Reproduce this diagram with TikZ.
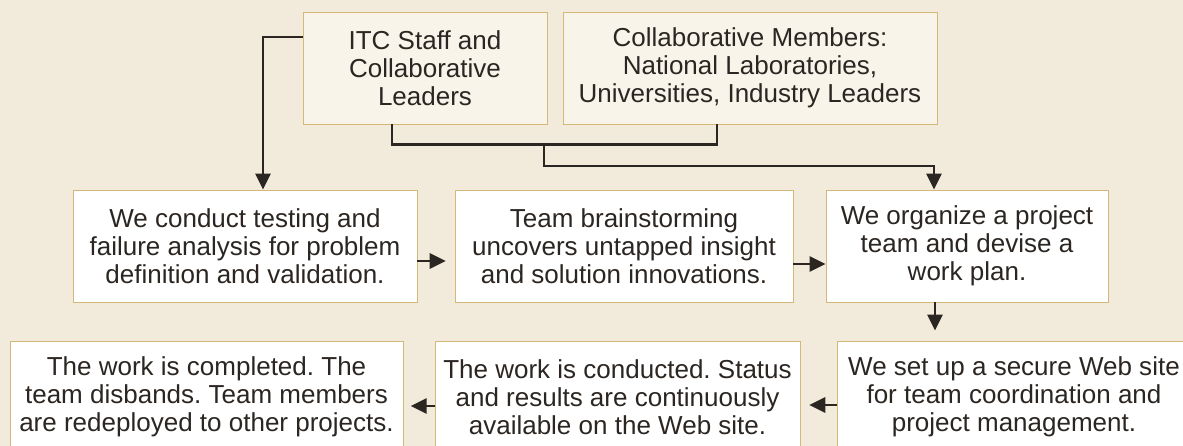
\documentclass[tikz,border=0pt]{standalone}
\usepackage{fontspec}
\setmainfont{Liberation Sans}
\usetikzlibrary{arrows.meta}
\definecolor{bg}{HTML}{F2EBDC}
\definecolor{topfill}{HTML}{F8F4EA}
\definecolor{boxline}{HTML}{D4B878}
\definecolor{ink}{HTML}{2B2622}
\frenchspacing

\begin{document}
\begin{tikzpicture}[font=\fontsize{18.5}{19.9}\selectfont,
		box/.style={draw=boxline, line width=0.7pt, fill=white, text=ink, align=center, inner sep=0pt, minimum height=2.8cm},
		topbox/.style={box, fill=topfill},
		link/.style={draw=ink, line width=1.8pt},
		arr/.style={link, -{Triangle[length=0.4cm, width=0.38cm]}}]
		\useasboundingbox (0,0) rectangle (29.575,-11.15);
		\fill[bg] (0,0) rectangle (29.575,-11.15);
		\clip (0,0) rectangle (29.575,-11.15);

		\node[topbox, minimum width=6.1cm] (itc) at (10.625,-1.7) {ITC Staff and\\Collaborative\\Leaders};
		\node[topbox, minimum width=9.35cm] (cm) at (18.75,-1.7) {Collaborative Members:\\National Laboratories,\\Universities, Industry Leaders};

		\node[box, minimum width=8.6cm] (tfa) at (6.125,-6.15) {We conduct testing and\\failure analysis for problem\\definition and validation.};
		\node[box, minimum width=8.45cm] (tb) at (15.6,-6.15) {Team brainstorming\\uncovers untapped insight\\and solution innovations.};
		\node[box, minimum width=7.05cm] (opt) at (24.175,-6.15) {We organize a project\\team and devise a\\work plan.};

		\node[box, minimum width=8.85cm] (web) at (25.35,-9.925) {We set up a secure Web site\\for team coordination and\\project management.};
		\node[box, minimum width=9.125cm] (wc) at (15.4375,-9.925) {The work is conducted. Status\\and results are continuously\\available on the Web site.};
		\node[box, minimum width=9.825cm] (done) at (5.1625,-9.925) {The work is completed. The\\team disbands. Team members\\are redeployed to other projects.};

		\coordinate (j) at (13.6,-3.6);
		\draw[arr] ([yshift=0.775cm]itc.west) -| ([xshift=0.45cm]tfa.north);
		\draw[link] ([xshift=-0.825cm]itc.south) -- ++(0,-0.5) -| ([xshift=-0.825cm]cm.south);
		\draw[arr] (j) -- ++(0,-0.55) -| ([xshift=-0.825cm]opt.north);
		\draw[arr, shorten >=0.22cm] ([yshift=-0.375cm]tfa.east) -- ([yshift=-0.375cm]tfa.east -| tb.west);
		\draw[arr] ([yshift=-0.45cm]tb.east) -- ([yshift=-0.45cm]tb.east -| opt.west);
		\draw[arr, shorten >=0.25cm] ([xshift=-0.8cm]opt.south) -- ([xshift=-0.8cm]opt.south |- web.north);
		\draw[arr, shorten >=0.22cm] ([yshift=-0.2cm]web.west) -- ([yshift=-0.2cm]web.west -| wc.east);
		\draw[arr, shorten >=0.18cm] ([yshift=-0.225cm]wc.west) -- ([yshift=-0.225cm]wc.west -| done.east);
	\end{tikzpicture}
\end{document}
